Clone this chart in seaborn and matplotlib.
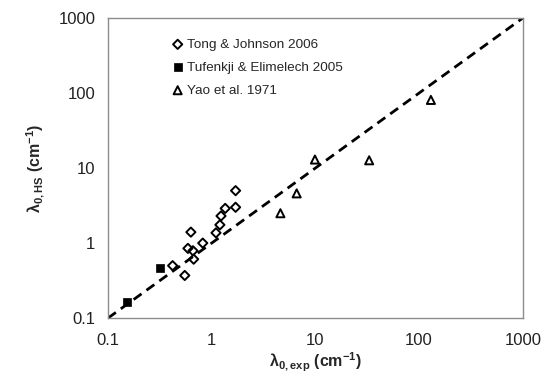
import numpy as np
import pandas as pd
import matplotlib
matplotlib.use('Agg')
import matplotlib.pyplot as plt
import matplotlib.ticker as mticker
import seaborn as sns

# data (cm^-1)
tong_exp = [0.42, 0.55, 0.59, 0.63, 0.66, 0.67, 0.82, 1.10, 1.20, 1.23, 1.35, 1.70, 1.70]
tong_hs = [0.50, 0.37, 0.85, 1.40, 0.79, 0.61, 1.00, 1.37, 1.75, 2.30, 2.90, 3.00, 5.00]

tufenkji_exp = [0.151, 0.32]
tufenkji_hs = [0.165, 0.47]

yao_exp = [4.6, 6.6, 9.9, 33.0, 130.0]
yao_hs = [2.5, 4.6, 13.0, 12.7, 81.0]

one_to_one = [0.1, 1000]
tick_vals = [0.1, 1, 10, 100, 1000]
tick_labels = ['0.1', '1', '10', '100', '1000']

sns.set_style('white')
plt.rcParams['font.family'] = ['Liberation Sans', 'DejaVu Sans']
plt.rcParams['mathtext.fontset'] = 'custom'
plt.rcParams['mathtext.rm'] = 'Liberation Sans'
plt.rcParams['mathtext.bf'] = 'Liberation Sans:bold'
plt.rcParams['mathtext.default'] = 'bf'

fig = plt.figure(figsize=(5.44, 3.76), dpi=100)
ax = fig.add_axes([0.1985, 0.154, 0.7625, 0.798])

sns.lineplot(x=one_to_one, y=one_to_one, ax=ax, color='black', lw=2,
             linestyle=(0, (3.5, 2.2)), zorder=1)
sns.scatterplot(x=tong_exp, y=tong_hs, ax=ax, marker='D', s=22,
                facecolor='none', edgecolor='black', linewidth=1.4,
                label='Tong & Johnson 2006', zorder=3)
sns.scatterplot(x=tufenkji_exp, y=tufenkji_hs, ax=ax, marker='s', s=34,
                color='black', edgecolor='black', linewidth=0.5,
                label='Tufenkji & Elimelech 2005', zorder=3)
sns.scatterplot(x=yao_exp, y=yao_hs, ax=ax, marker='^', s=34,
                facecolor='none', edgecolor='black', linewidth=1.4,
                label='Yao et al. 1971', zorder=3)

ax.set_xscale('log')
ax.set_yscale('log')
ax.set_xlim(0.1, 1000)
ax.set_ylim(0.1, 1000)
ax.xaxis.set_major_locator(mticker.FixedLocator(tick_vals))
ax.yaxis.set_major_locator(mticker.FixedLocator(tick_vals))
ax.xaxis.set_major_formatter(mticker.FixedFormatter(tick_labels))
ax.yaxis.set_major_formatter(mticker.FixedFormatter(tick_labels))
ax.xaxis.set_minor_locator(mticker.NullLocator())
ax.yaxis.set_minor_locator(mticker.NullLocator())

for sp in ax.spines.values():
    sp.set_color('#8c8c8c')
    sp.set_linewidth(1.0)
ax.tick_params(axis='both', direction='out', length=4, width=1,
               color='#8c8c8c', labelsize=12, labelcolor='#222222', pad=5)
ax.tick_params(axis='x', pad=7)

ax.set_xlabel(r'λ$_{0,exp}$ (cm$^{-1}$)', fontsize=11.5, fontweight='bold',
              labelpad=2)
ax.set_ylabel(r'λ$_{0,HS}$ (cm$^{-1}$)', fontsize=11.5, fontweight='bold',
              labelpad=8)

leg = ax.legend(loc='upper left', bbox_to_anchor=(0.142, 0.95), frameon=False,
                fontsize=9.7, handlelength=0.8, handletextpad=0.3,
                labelspacing=0.78, borderaxespad=0)

fig.savefig('out.png', dpi=100)
